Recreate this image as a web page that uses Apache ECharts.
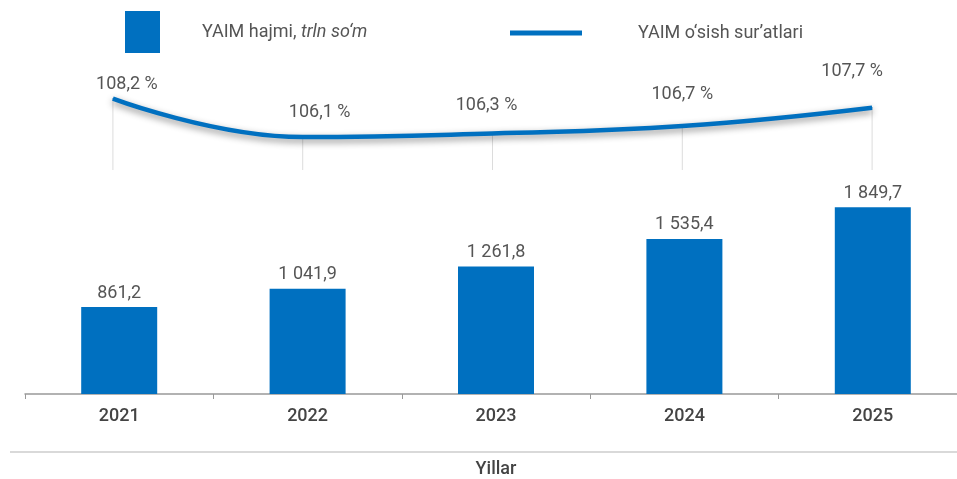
<!DOCTYPE html>
<html>
<head>
<meta charset="utf-8">
<script src="https://cdn.jsdelivr.net/npm/echarts@6/dist/echarts.min.js"></script>
<style>
  html, body { margin: 0; padding: 0; background: #fff; overflow: hidden; }
  #main { width: 967px; height: 479px; }
</style>
</head>
<body>
<div id="main"></div>
<script>
var years = ['2021', '2022', '2023', '2024', '2025'];
var yaimHajmi = [861.2, 1041.9, 1261.8, 1535.4, 1849.7];
var osishSuratlari = [108.2, 106.1, 106.3, 106.7, 107.7];

var barName = 'YAIM hajmi, trln so‘m';
var lineName = 'YAIM o‘sish sur’atlari';
var blue = '#0070c0';
var textColor = '#555';
var font = 'Roboto';

// hand-placed label nudges, as in the original layout
var lineLabelNudge = [[14, 5], [17, -5], [-6, -8], [0, -12], [-20, -17]];

function fmt(v) {
  var parts = v.toFixed(1).split('.');
  var intPart = parts[0].replace(/\B(?=(\d{3})+(?!\d))/g, ' ');
  return intPart + ',' + parts[1];
}

var myChart = echarts.init(document.getElementById('main'));

var lineData = osishSuratlari.map(function (v, i) {
  return { value: v, label: { offset: lineLabelNudge[i] } };
});

var option = {
  backgroundColor: '#fff',
  textStyle: { fontFamily: font },
  legend: [{
    data: [barName],
    left: 120,
    top: 6,
    icon: 'rect',
    itemWidth: 35,
    itemHeight: 42,
    formatter: function () {
      return '{a|YAIM hajmi, }{b|trln so‘m}';
    },
    textStyle: {
      padding: [0, 0, 0, 37],
      rich: {
        a: { fontSize: 18, color: textColor, fontFamily: font },
        b: { fontSize: 18, color: textColor, fontFamily: font, fontStyle: 'italic' }
      }
    }
  }, {
    data: [lineName],
    left: 505,
    top: 19,
    icon: 'rect',
    itemWidth: 72,
    itemHeight: 5,
    textStyle: {
      fontSize: 18,
      color: textColor,
      padding: [0, 0, 0, 51]
    }
  }],
  grid: [
    { left: 18, width: 949, top: 84, height: 86 },
    { left: 25, width: 942, top: 192, height: 211 }
  ],
  xAxis: [{
    type: 'category',
    gridIndex: 0,
    data: years,
    show: false
  }, {
    type: 'category',
    gridIndex: 1,
    data: years,
    axisLine: { lineStyle: { color: '#999', width: 1.5 } },
    axisTick: { show: true, length: 5, lineStyle: { color: '#999' } },
    axisLabel: { fontSize: 18, color: '#444', margin: 13, fontWeight: 500 },
    name: 'Yillar',
    nameLocation: 'middle',
    nameGap: 66,
    nameTextStyle: { fontSize: 18, color: '#444', fontWeight: 500 }
  }],
  yAxis: [{
    type: 'value',
    gridIndex: 0,
    min: 104.3,
    max: 109,
    show: false
  }, {
    type: 'value',
    gridIndex: 1,
    min: 0,
    max: 2000,
    show: false
  }],
  graphic: [{
    type: 'line',
    shape: { x1: 10, y1: 452, x2: 967, y2: 452 },
    style: { stroke: '#ccc', lineWidth: 1.5 },
    silent: true
  }],
  series: [{
    name: 'drop',
    type: 'bar',
    xAxisIndex: 0,
    yAxisIndex: 0,
    data: osishSuratlari,
    barWidth: 1,
    itemStyle: { color: '#dcdcdc' },
    silent: true,
    z: 1
  }, {
    name: lineName,
    type: 'line',
    xAxisIndex: 0,
    yAxisIndex: 0,
    data: lineData,
    smooth: 0.45,
    showSymbol: true,
    symbol: 'circle',
    symbolSize: 1,
    color: blue,
    lineStyle: {
      color: blue,
      width: 4.5,
      shadowColor: 'rgba(0,0,0,0.45)',
      shadowBlur: 7,
      shadowOffsetY: 3
    },
    label: {
      show: true,
      position: 'top',
      distance: 10,
      fontSize: 18,
      color: textColor,
      formatter: function (p) { return fmt(p.value) + ' %'; }
    },
    z: 3
  }, {
    name: barName,
    type: 'bar',
    xAxisIndex: 1,
    yAxisIndex: 1,
    data: yaimHajmi,
    barWidth: 76,
    itemStyle: { color: blue },
    label: {
      show: true,
      position: 'top',
      distance: 5,
      fontSize: 18,
      color: textColor,
      formatter: function (p) { return fmt(p.value); }
    }
  }]
};

myChart.setOption(option);
</script>
</body>
</html>
